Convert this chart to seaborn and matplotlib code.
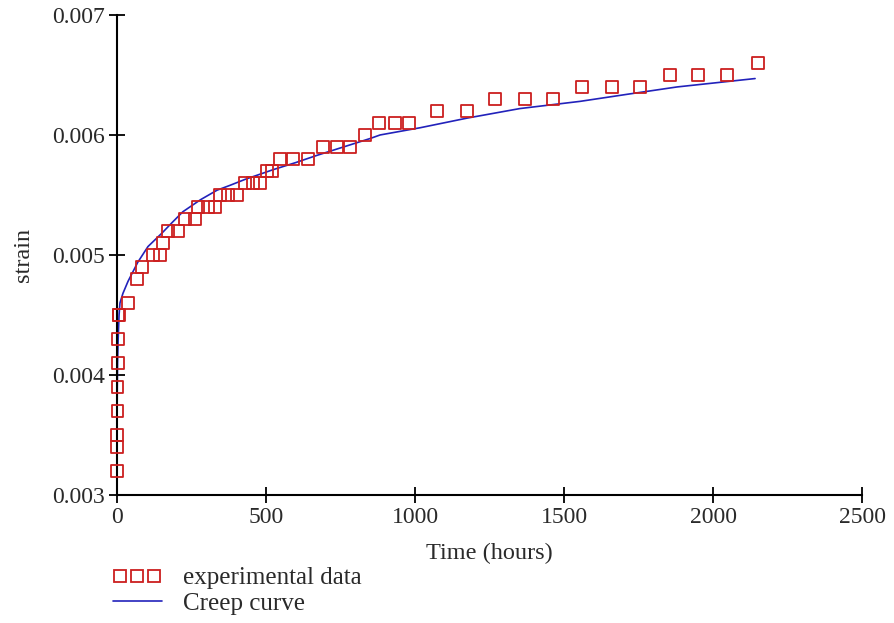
import numpy as np
import pandas as pd
import matplotlib
matplotlib.use("Agg")
import matplotlib.pyplot as plt
from matplotlib.lines import Line2D
from matplotlib.legend_handler import HandlerLine2D
import seaborn as sns

# experimental data (hours, strain)
exp_time = [0.2, 0.6, 1.0, 1.5, 2.0, 3.0, 4.0, 5.0, 7.0, 37, 67, 84, 120, 144, 155, 170, 205,
            228, 262, 272, 305, 329, 346, 372, 403, 430, 456, 480, 503, 520, 547, 590, 641,
            691, 738, 782, 832, 879, 933, 980, 1074, 1174, 1268, 1369, 1463, 1560, 1661,
            1755, 1856, 1950, 2047, 2150]
exp_strain = [0.0032, 0.0034, 0.0035, 0.0037, 0.0039, 0.0041, 0.0043, 0.0045, 0.0045,
              0.0046, 0.0048, 0.0049, 0.0050, 0.0050, 0.0051, 0.0052, 0.0052, 0.0053, 0.0053,
              0.0054, 0.0054, 0.0054, 0.0055, 0.0055, 0.0055, 0.0056, 0.0056, 0.0056, 0.0057,
              0.0057, 0.0058, 0.0058, 0.0058, 0.0059, 0.0059, 0.0059, 0.0060, 0.0061, 0.0061,
              0.0061, 0.0062, 0.0062, 0.0063, 0.0063, 0.0063, 0.0064, 0.0064, 0.0064, 0.0065,
              0.0065, 0.0065, 0.0066]

# fitted creep curve
curve_time = [0.1, 0.5, 1, 2, 4, 7, 10, 20, 37, 70, 104, 150, 185, 221, 280, 336, 379, 430,
              523, 600, 671, 760, 849, 883, 1017, 1174, 1352, 1554, 1715, 1879, 2141]
curve_strain = [0.00345, 0.0037, 0.0039, 0.0041, 0.0043, 0.0045, 0.0046, 0.00468, 0.00478,
                0.00494, 0.00507, 0.00518, 0.00527, 0.00536, 0.00546, 0.00554, 0.00558,
                0.00563, 0.00571, 0.00577, 0.00583, 0.0059, 0.00597, 0.006, 0.00606,
                0.00614, 0.00622, 0.00628, 0.00634, 0.0064, 0.00647]

x_ticks = [0, 500, 1000, 1500, 2000, 2500]
y_ticks = [0.003, 0.004, 0.005, 0.006, 0.007]

sns.set_style("ticks")
plt.rcParams['font.family'] = ['Liberation Serif', 'DejaVu Serif']

red = '#cc1f1f'
blue = '#2222bb'
text_col = '#2a2a2a'

fig = plt.figure(figsize=(8.95, 6.23), dpi=100)
ax = fig.add_axes([0.1307, 0.2055, 0.8325, 0.7705])

sns.lineplot(x=curve_time, y=curve_strain, ax=ax, color=blue, linewidth=1.2,
             sort=False, estimator=None, zorder=2)
sns.scatterplot(x=exp_time, y=exp_strain, ax=ax, marker='s', s=72, fc='none',
                ec=red, linewidth=1.3, zorder=3, clip_on=False)

ax.set_xlim(0, 2500)
ax.set_ylim(0.003, 0.007)
ax.set_xticks(x_ticks)
ax.set_yticks(y_ticks)
ax.set_yticklabels([f"{v:.3f}" for v in y_ticks])
ax.tick_params(direction='inout', length=11, width=1.3, colors='black',
               labelsize=17, labelcolor=text_col, pad=3, bottom=True, left=True)

for side in ['top', 'right']:
    ax.spines[side].set_visible(False)
for side in ['left', 'bottom']:
    ax.spines[side].set_color('black')
    ax.spines[side].set_linewidth(1.5)

ax.set_xlabel('Time (hours)', fontsize=17.5, color=text_col, labelpad=11)
ax.set_ylabel('strain', fontsize=17.5, color=text_col, labelpad=13)

# legend below the axes: three hollow squares and a full-width line
marker_handle = Line2D([], [], linestyle='none', marker='s', markersize=8.5,
                       mfc='none', mec=red, mew=1.3)
line_handle = Line2D([], [], color=blue, linewidth=1.2)
fig.legend([marker_handle, line_handle], ['experimental data', 'Creep curve'],
           loc='upper left', bbox_to_anchor=(0.126, 0.090), frameon=False, fontsize=18,
           numpoints=3, handlelength=1.96, handletextpad=0.84, labelspacing=0.12,
           borderpad=0, borderaxespad=0, labelcolor=text_col,
           handler_map={line_handle: HandlerLine2D(marker_pad=0)})

fig.savefig('out.png', dpi=100)
